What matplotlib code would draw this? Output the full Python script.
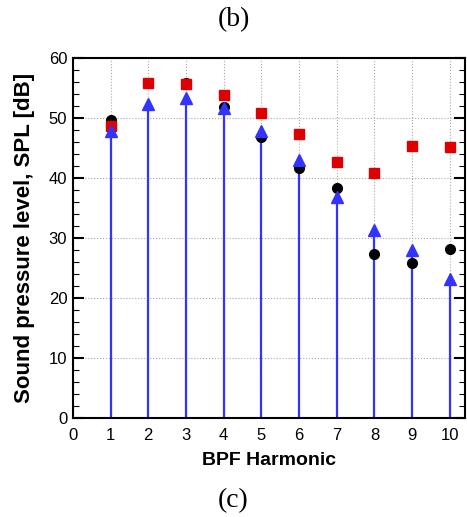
import numpy as np
from matplotlib import pyplot as plt
from matplotlib.ticker import MultipleLocator

plt.rcParams['font.family'] = ['Liberation Sans', 'DejaVu Sans']

# Values
harmonic = [1, 2, 3, 4, 5, 6, 7, 8, 9, 10]
spl_circle = [49.7, 55.9, 55.8, 51.9, 46.9, 41.6, 38.3, 27.4, 25.8, 28.1]
spl_square = [48.7, 55.8, 55.7, 53.8, 50.8, 47.3, 42.6, 40.9, 45.4, 45.2]
spl_triangle = [47.9, 52.4, 53.4, 51.6, 47.9, 43.0, 36.9, 31.4, 28.0, 23.1]

fig = plt.figure(figsize=(4.67, 5.17), dpi=100)
ax = fig.add_axes([0.156, 0.1915, 0.8397, 0.6963])

ax.vlines(harmonic, 0, spl_triangle, color='#3333ff', lw=1.6, zorder=2)
ax.plot(harmonic, spl_circle, 'o', color='black', ms=7, zorder=3)
ax.plot(harmonic, spl_square, 's', color='#dd0000', ms=6.5, zorder=4)
ax.plot(harmonic, spl_triangle, '^', color='#3333ff', ms=8.5, zorder=5)

ax.set_xlim(0, 10.4)
ax.set_ylim(0, 60)
ax.set_xticks(range(0, 11))
ax.yaxis.set_major_locator(MultipleLocator(10))
ax.yaxis.set_minor_locator(MultipleLocator(2))
ax.grid(True, which='major', ls=':', color='#aaaaaa', lw=0.8)
ax.tick_params(axis='y', which='major', direction='in', length=8, width=1.5,
               right=True, labelsize=12, pad=4)
ax.tick_params(axis='y', which='minor', direction='in', length=4, width=0.8, right=True)
ax.tick_params(axis='x', which='major', direction='in', length=0,
               labelsize=12, pad=7)
for s in ax.spines.values():
    s.set_linewidth(1.5)

ax.set_xlabel('BPF Harmonic', fontsize=14, fontweight='bold', labelpad=7)
ax.set_ylabel('Sound pressure level, SPL [dB]', fontsize=16, fontweight='bold',
              labelpad=10)

fig.text(0.5, 0.962, '(b)', ha='center', va='center', fontsize=20,
         family=['Liberation Serif', 'DejaVu Serif'])
fig.text(0.5, 0.032, '(c)', ha='center', va='center', fontsize=20,
         family=['Liberation Serif', 'DejaVu Serif'])

fig.savefig('out.png', dpi=100)
